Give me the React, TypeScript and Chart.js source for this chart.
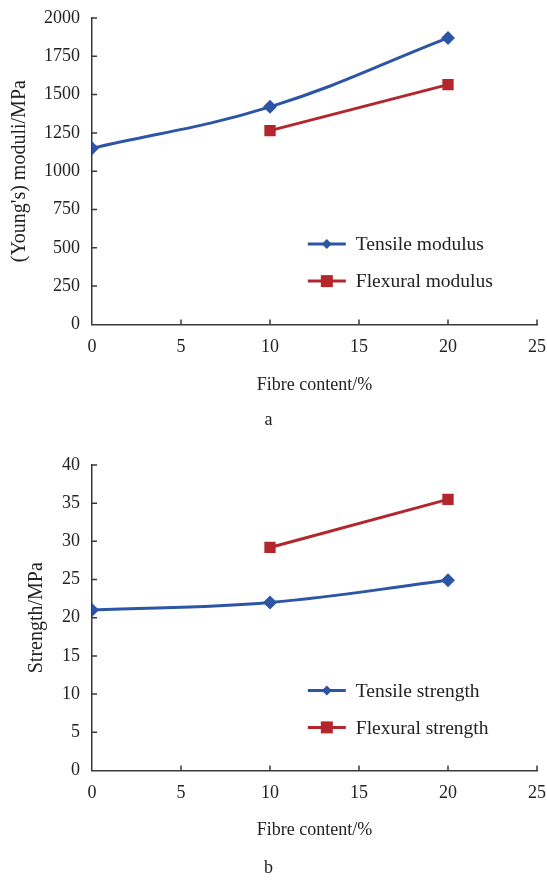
import React, { useEffect, useRef } from "react";
import { Chart, registerables } from "chart.js";

Chart.register(...registerables);

// ---------- data ----------
const fibreContent = [0, 10, 20];
const flexuralFibreContent = [10, 20];
const tensileModulus = [1150, 1420, 1870];
const flexuralModulus = [1265, 1565];
const tensileStrength = [21, 22, 24.9];
const flexuralStrength = [29.2, 35.5];
const xTickValues = [0, 5, 10, 15, 20, 25];
const modulusTickValues = [0, 250, 500, 750, 1000, 1250, 1500, 1750, 2000];
const strengthTickValues = [0, 5, 10, 15, 20, 25, 30, 35, 40];

const BLUE = "#2d55a5";
const RED = "#b3262c";
const AXIS = "#3a3a3a";
const TEXT = "#222222";
const FONT = "'Liberation Serif', 'Times New Roman', serif";

const inwardTicks = {
  id: "inwardTicks",
  afterDraw(chart: any) {
    const { ctx, chartArea, scales } = chart;
    ctx.save();
    ctx.strokeStyle = AXIS;
    ctx.lineWidth = 1.5;
    ctx.beginPath();
    scales.x.ticks.forEach((t: any) => {
      const px = scales.x.getPixelForValue(t.value);
      if (px <= chartArea.left + 1) return;
      ctx.moveTo(px, chartArea.bottom);
      ctx.lineTo(px, chartArea.bottom - 5);
    });
    scales.y.ticks.forEach((t: any) => {
      const py = scales.y.getPixelForValue(t.value);
      if (py >= chartArea.bottom - 1) return;
      ctx.moveTo(chartArea.left, py);
      ctx.lineTo(chartArea.left + 5, py);
    });
    ctx.stroke();
    ctx.restore();
  },
};

const lineLegend = {
  id: "lineLegend",
  afterDraw(chart: any, _args: any, opts: any) {
    const { ctx, chartArea } = chart;
    const w = chartArea.right - chartArea.left;
    const h = chartArea.bottom - chartArea.top;
    const x0 = chartArea.left + w * opts.fx;
    let y = chartArea.top + h * opts.fy;
    ctx.save();
    chart.data.datasets.forEach((ds: any) => {
      ctx.strokeStyle = ds.borderColor;
      ctx.lineWidth = ds.borderWidth;
      ctx.beginPath();
      ctx.moveTo(x0, y);
      ctx.lineTo(x0 + 38, y);
      ctx.stroke();
      const cx = x0 + 19;
      ctx.fillStyle = ds.pointBackgroundColor;
      ctx.beginPath();
      if (ds.pointStyle === "rectRot") {
        const r = 5;
        ctx.moveTo(cx, y - r);
        ctx.lineTo(cx + r, y);
        ctx.lineTo(cx, y + r);
        ctx.lineTo(cx - r, y);
        ctx.closePath();
      } else {
        ctx.rect(cx - 6, y - 6, 12, 12);
      }
      ctx.fill();
      ctx.fillStyle = TEXT;
      ctx.font = `19.5px ${FONT}`;
      ctx.textBaseline = "middle";
      ctx.textAlign = "left";
      ctx.fillText(ds.label, x0 + 48, y + 1);
      y += opts.gap;
    });
    ctx.restore();
  },
};

interface PanelProps {
  tensile: number[];
  flexural: number[];
  tensileLabel: string;
  flexuralLabel: string;
  yTicks: number[];
  yTitle: string;
  caption: string;
  lay: {
    top: number;
    xHeight: number;
    tickPad: number;
    xTitlePad: number;
    capPad: number;
    yTitlePad: number;
  };
}

function Panel(p: PanelProps) {
  const ref = useRef<HTMLCanvasElement>(null);
  useEffect(() => {
    if (!ref.current) return;
    const tickFont = { family: FONT, size: 18 };
    const chart = new Chart(ref.current, {
      type: "scatter",
      data: {
        datasets: [
          {
            label: p.tensileLabel,
            data: fibreContent.map((x, i) => ({ x, y: p.tensile[i] })),
            showLine: true,
            tension: 0.4,
            borderColor: BLUE,
            backgroundColor: BLUE,
            pointBackgroundColor: BLUE,
            pointBorderColor: BLUE,
            borderWidth: 3,
            pointStyle: "rectRot",
            pointRadius: 7,
            pointBorderWidth: 0,
          } as any,
          {
            label: p.flexuralLabel,
            data: flexuralFibreContent.map((x, i) => ({ x, y: p.flexural[i] })),
            showLine: true,
            tension: 0,
            borderColor: RED,
            backgroundColor: RED,
            pointBackgroundColor: RED,
            pointBorderColor: RED,
            borderWidth: 3,
            pointStyle: "rect",
            pointRadius: 8,
            pointBorderWidth: 0,
          } as any,
        ],
      },
      options: {
        animation: false,
        responsive: false,
        layout: { padding: { top: p.lay.top, right: 10, left: 0, bottom: 0 } },
        plugins: {
          legend: { display: false },
          tooltip: { enabled: false },
          title: {
            display: true,
            position: "bottom",
            text: p.caption,
            color: TEXT,
            font: { family: FONT, size: 18, weight: "normal" },
            padding: { top: 0, bottom: p.lay.capPad },
          },
          lineLegend: { fx: 0.485, fy: 0.738, gap: 37 },
        } as any,
        scales: {
          x: {
            type: "linear",
            min: 0,
            max: 25,
            afterBuildTicks: (s: any) => {
              s.ticks = xTickValues.map((v) => ({ value: v }));
            },
            afterFit: (s: any) => {
              s.height = p.lay.xHeight;
              s.paddingLeft = 0;
              s.paddingRight = 0;
            },
            grid: { display: false, drawTicks: false },
            border: { display: true, color: AXIS, width: 1.5 },
            ticks: { color: TEXT, font: tickFont, padding: p.lay.tickPad, maxRotation: 0 },
            title: {
              display: true,
              text: "Fibre content/%",
              color: TEXT,
              font: { family: FONT, size: 18 },
              padding: { top: 0, bottom: p.lay.xTitlePad },
            },
          },
          y: {
            type: "linear",
            min: p.yTicks[0],
            max: p.yTicks[p.yTicks.length - 1],
            afterBuildTicks: (s: any) => {
              s.ticks = p.yTicks.map((v) => ({ value: v }));
            },
            afterFit: (s: any) => {
              s.width = 92;
              s.paddingTop = 0;
              s.paddingBottom = 0;
            },
            grid: { display: false, drawTicks: false },
            border: { display: true, color: AXIS, width: 1.5 },
            ticks: {
              color: TEXT,
              font: tickFont,
              padding: 12,
              callback: (v: any) => String(v),
            },
            title: {
              display: true,
              text: p.yTitle,
              color: TEXT,
              font: { family: FONT, size: 20 },
              padding: { top: p.lay.yTitlePad, bottom: 0 },
            },
          },
        },
      },
      plugins: [inwardTicks, lineLegend],
    });
    return () => chart.destroy();
  }, []);
  return <canvas ref={ref} width={547} height={440} style={{ display: "block" }} />;
}

export default function App() {
  return (
    <div style={{ position: "absolute", left: 0, top: 0, width: 547, height: 880, background: "#fff" }}>
      <Panel
        tensile={tensileModulus}
        flexural={flexuralModulus}
        tensileLabel="Tensile modulus"
        flexuralLabel="Flexural modulus"
        yTicks={modulusTickValues}
        yTitle="(Young's) moduli/MPa"
        caption="a"
        lay={{ top: 18, xHeight: 85, tickPad: 12, xTitlePad: 13, capPad: 9, yTitlePad: 8 }}
      />
      <Panel
        tensile={tensileStrength}
        flexural={flexuralStrength}
        tensileLabel="Tensile strength"
        flexuralLabel="Flexural strength"
        yTicks={strengthTickValues}
        yTitle="Strength/MPa"
        caption="b"
        lay={{ top: 25, xHeight: 87, tickPad: 12, xTitlePad: 16, capPad: 1, yTitlePad: 25 }}
      />
    </div>
  );
}
